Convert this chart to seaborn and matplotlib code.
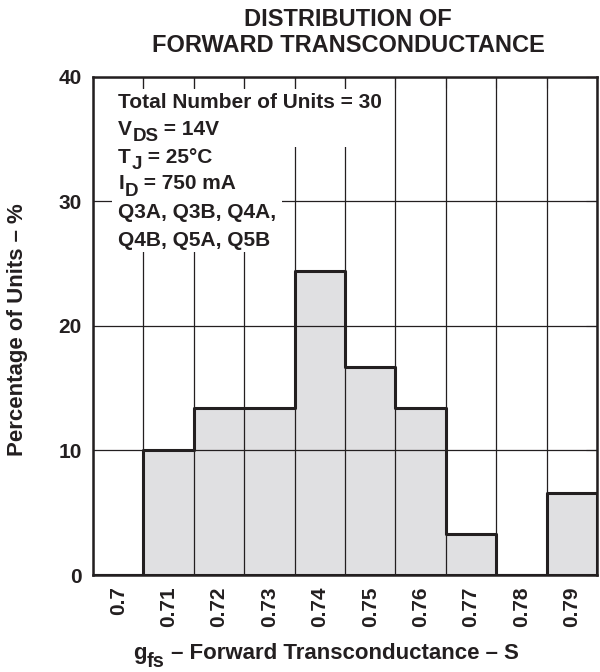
import numpy as np
import pandas as pd
import matplotlib
matplotlib.use("Agg")
import matplotlib.pyplot as plt
from matplotlib.transforms import Bbox
from matplotlib.patches import Rectangle
import seaborn as sns

# histogram values
gfs = [0.70, 0.71, 0.72, 0.73, 0.74, 0.75, 0.76, 0.77, 0.78, 0.79]
pct = [0, 10.0, 13.4, 13.4, 24.4, 16.7, 13.4, 3.3, 0, 6.6]
tick_labels = ["0.7", "0.71", "0.72", "0.73", "0.74", "0.75", "0.76", "0.77", "0.78", "0.79"]
# note lines: (main text, subscript, rest)
notes = [("Total Number of Units = 30", "", ""),
         ("V", "DS", " = 14V"),
         ("T", "J", " = 25°C"),
         ("I", "D", " = 750 mA"),
         ("Q3A, Q3B, Q4A,", "", ""),
         ("Q4B, Q5A, Q5B", "", "")]

sns.set_style("white")
plt.rcParams["font.family"] = ["Liberation Sans", "DejaVu Sans"]
plt.rcParams["font.weight"] = "bold"

ink = "#231f20"
fig = plt.figure(figsize=(6, 6.72), dpi=100)
ax = fig.add_axes([0.155, 0.1443, 0.84, 0.7413])

df = pd.DataFrame({"gfs": gfs, "pct": pct})
edges = [round(0.695 + 0.01 * i, 3) for i in range(11)]
sns.histplot(data=df, x="gfs", weights="pct", bins=edges, element="step", fill=True,
             facecolor="#e0e0e2", edgecolor=ink, linewidth=2.2, alpha=1, ax=ax)

ax.set_xlim(0.695, 0.795)
ax.set_ylim(0, 40)
ax.set_yticks([0, 10, 20, 30, 40])
ax.set_xticks(edges)
ax.set_xticklabels([])
ax.set_xticks(gfs, minor=True)
ax.set_xticklabels(tick_labels, minor=True, rotation=90, fontsize=15, fontweight="bold", color=ink)
ax.tick_params(axis="x", which="minor", length=0, pad=8)
ax.tick_params(axis="x", which="major", direction="in", length=8, top=True, color=ink)
ax.tick_params(axis="y", direction="in", length=8, right=True, color=ink, labelsize=15, labelcolor=ink, pad=8)
for lab in ax.get_yticklabels():
    lab.set_fontweight("bold")

ax.set_axisbelow(False)
ax.grid(True, which="major", color=ink, linewidth=0.9)
for s in ax.spines.values():
    s.set_color(ink)
    s.set_linewidth(1.8)
ax.set_xlabel("")
ax.set_ylabel("")

fig.text(0.03, 0.509, "Percentage of Units – %", rotation=90, ha="center", va="center",
         fontsize=16, fontweight="bold", color=ink)
fig.text(0.58, 0.952, "DISTRIBUTION OF\nFORWARD TRANSCONDUCTANCE", ha="center", va="center",
         fontsize=17, fontweight="bold", color=ink, linespacing=1.15)


def sub_line(x, y, main, sub, rest, size, coords):
    kw = dict(fontsize=size, fontweight="bold", color=ink, clip_on=False, zorder=6)
    t1 = ax.text(x, y, main, transform=coords, ha="left", va="center", **kw)
    if not sub:
        return [t1]
    # subscript: nearly full size, dropped below the baseline
    t2 = ax.annotate(sub, xy=(1, 0), xycoords=t1, xytext=(0.3, -4.5), textcoords="offset points",
                     ha="left", va="bottom", **{**kw, "fontsize": size * 0.9})
    t3 = ax.annotate(rest, xy=(1, 0), xycoords=(t2, t1), ha="left", va="bottom", **kw)
    return [t1, t2, t3]


ys = [0.948, 0.895, 0.839, 0.785, 0.727, 0.671]
rows = [sub_line(0.05, y, m, s_, r, 15, ax.transAxes) for (m, s_, r), y in zip(notes, ys)]

sub_line(0.222, 0.027, "g", "fs", " – Forward Transconductance – S", 16, fig.transFigure)

# white backing behind the note block (first two rows are wider)
fig.canvas.draw()
rend = fig.canvas.get_renderer()
inv = fig.transFigure.inverted()
for grp in (rows[:2], rows[2:]):
    bb = Bbox.union([t.get_window_extent(rend) for r in grp for t in r])
    (x0, y0), (x1, y1) = inv.transform([(bb.x0 - 6, bb.y0 - 2), (bb.x1 + 6, bb.y1 + 4)])
    ax.add_patch(Rectangle((x0, y0), x1 - x0, y1 - y0, transform=fig.transFigure,
                           facecolor="white", edgecolor="none", zorder=4, clip_on=False))

fig.savefig("out.png", dpi=100)
